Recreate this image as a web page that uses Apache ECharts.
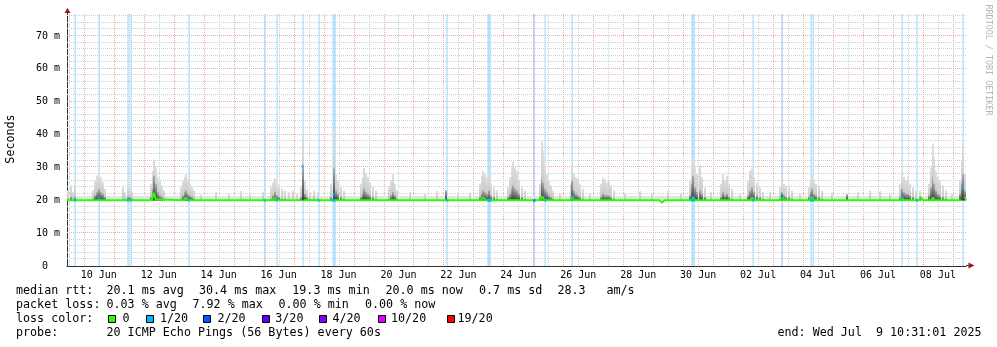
<!DOCTYPE html>
<html>
<head>
<meta charset="utf-8">
<script src="https://cdn.jsdelivr.net/npm/echarts@6.0.0/dist/echarts.min.js"></script>
<style>
html, body { margin: 0; padding: 0; background: #fff; }
#main { width: 997px; height: 347px; }
</style>
</head>
<body>
<div id="main"></div>
<script>
// time axis is in hours since 09 Jun 00:00, graph covers 09 Jun 10:31 -> 09 Jul 10:31
var startHour = 10.517;
var endHour = 730.517;
var yTop = 76.7;

var labelHours = [36, 84, 132, 180, 228, 276, 324, 372, 420, 468, 516, 564, 612, 660, 708];
var labelTexts = ['10 Jun', '12 Jun', '14 Jun', '16 Jun', '18 Jun', '20 Jun', '22 Jun', '24 Jun',
    '26 Jun', '28 Jun', '30 Jun', '02 Jul', '04 Jul', '06 Jul', '08 Jul'];
var yLabels = [0, 10, 20, 30, 40, 50, 60, 70];

// smoke columns: time, top of the light smoke, top of the dense core (ms)
var smokeTimes = [11.2, 13.6, 15.2, 16.8, 31.2, 32.8, 34.4, 36, 37.6, 39.2, 40.8, 55.2, 56.8, 59.2, 60.8, 62.4,
    77.6, 79.2, 80, 81.6, 83.2, 84.8, 86.4, 88, 101.6, 103.2, 104.8, 105.6, 107.2, 108.8, 110.4, 112,
    117.6, 129.6, 140, 149.6, 156.8, 167.2,
    173.6, 175.2, 176.8, 178.4, 180, 182.4, 184.8, 188, 191.2, 194.4,
    197.6, 199.2, 200.8, 202.4, 204.8, 208, 211.2, 221.6, 224, 225.6, 227.2, 229.6, 232,
    245.6, 247.2, 248, 249.6, 251.2, 252.8, 255.2, 257.6, 268.8, 270.4, 272, 273.6, 275.2,
    285.6, 297.6, 307.2, 314.4, 324, 333.6,
    341.6, 343.2, 344, 345.6, 347.2, 348.8, 350.4, 352.8, 355.2,
    364, 365.6, 367.2, 368, 369.6, 371.2, 372.8, 375.2, 377.6,
    389.6, 391.2, 392, 393.6, 395.2, 396.8, 398.4, 400, 405.6,
    414.4, 415.2, 416.8, 418.4, 420, 421.6, 424, 429.6,
    438.4, 440, 441.6, 443.2, 444.8, 446.4, 448.8, 457.6, 469.6, 479.2, 492, 502.4,
    509.6, 511.2, 512, 513.6, 515.2, 517.6, 519.2, 521.6, 526.4,
    534.4, 536, 537.6, 539.2, 540.8, 543.2, 549.6,
    556, 557.6, 559.2, 560.8, 563.2, 565.6, 568, 573.6,
    581.6, 583.2, 584.8, 586.4, 588.8, 591.2, 597.6,
    604.8, 606.4, 607.2, 608.8, 610.4, 612.8, 615.2, 623.2, 635.2, 644, 653.6, 661.6, 669.6,
    677.6, 679.2, 680.8, 682.4, 684, 685.6, 688, 690.4, 693.6,
    700.8, 702.4, 704, 704.8, 706.4, 708, 709.6, 712, 714.4, 719.2,
    725.6, 727.2, 728, 729.6];
var smokeTops = [23, 24.5, 22.5, 24.6, 23, 26, 27.5, 28.7, 27, 25.5, 23.5, 24, 22.5, 25, 24, 22.5,
    25, 29, 32.4, 30, 27, 26, 24.5, 23, 24, 26, 27, 28, 26.5, 25, 24, 23,
    21.8, 22.5, 22, 22.8, 22, 22.5,
    24, 25.5, 26.7, 25, 24.5, 23.5, 23, 22.5, 23, 22,
    24, 40, 26, 23.5, 22.5, 23, 22.5, 25, 42, 28, 26, 24, 23,
    25, 27, 29.8, 28, 27, 25.5, 24, 23, 24, 26, 28, 25, 23,
    22.5, 22, 22.8, 23, 22, 22.3,
    25, 27.5, 29, 28, 27, 28.5, 25, 24, 23,
    24, 27, 30, 31.7, 30, 29, 26, 24, 23,
    25, 37.8, 35, 31, 28, 26, 24.5, 23, 22,
    25, 31, 28, 27, 26.5, 25, 23.5, 22,
    25, 27, 26.5, 25.5, 26, 24.5, 23, 22.3, 22.8, 22, 23, 22.3,
    26, 30, 33, 30, 28, 30.7, 27, 24, 22.5,
    25, 28, 26, 27.5, 25, 23.5, 22,
    26, 29, 29.7, 27, 25.5, 24, 22.5, 22.5,
    24, 26, 25, 24.5, 24, 23, 22,
    24, 26, 27.6, 26, 25, 24, 23, 22.3, 22, 22.5, 23, 22.8, 22,
    25, 28.7, 27, 26, 27, 25, 24, 23, 23,
    25, 30, 37.3, 33, 29, 27, 26, 24.5, 23, 22,
    26, 32, 38, 28];
var smokeCores = [20.5, 21, 20, 21, 20.5, 21.5, 22.5, 23.5, 22.5, 22, 21, 20.5, 20, 21, 21, 20.5,
    21, 23.5, 27.5, 25, 22.5, 21.5, 21, 20.5, 20.5, 21.5, 22.5, 23, 22, 21.5, 21, 20.5,
    20, 20, 20, 20, 20, 20,
    20.5, 21.5, 22.5, 21.5, 21, 20.5, 20.5, 20, 20, 20,
    21, 30.4, 22, 21, 20.5, 20.5, 20, 21, 30, 23, 22, 21, 20.5,
    21, 22, 23.5, 22.5, 22, 21.5, 21, 20.5, 20.5, 21.5, 22.5, 21.5, 20.5,
    20, 20, 20, 23, 20, 20,
    21, 22, 23, 22.5, 22, 23, 21.5, 21, 20.5,
    21, 22, 23.5, 24.5, 23.5, 23, 22, 21, 20.5,
    21, 27, 25.5, 23.5, 22.5, 21.5, 21, 20.5, 20,
    21, 26, 23, 22, 21.5, 21, 20.5, 20,
    21, 22, 21.5, 21.5, 21.5, 21, 20.5, 20, 20, 20, 20, 20,
    21.5, 25, 27.5, 24, 22.5, 23, 22, 21, 20,
    21, 22.5, 21.5, 22, 21, 20.5, 20,
    21.5, 23, 24, 22.5, 21.5, 21, 20.5, 20,
    20.5, 22.5, 21.5, 21, 21, 20.5, 20,
    21, 22.5, 23.5, 22, 21.5, 21, 20.5, 20, 21.8, 20, 20, 20, 20,
    21, 23.5, 22.5, 22, 22, 21.5, 21, 20.5, 21,
    21.5, 24, 27, 25, 23, 22, 21.5, 21, 20.5, 20,
    22, 25, 28, 23];

// quiet smoke floor over the whole period
var floorLow = 19.9;
var floorTop = 21.3;

// median rtt without loss (null = step had loss, drawn in its loss colour)
var medianTimes = [10.517, 34.4, 36, 37.6, 78.4, 80, 81.6, 83.2, 104, 105.6, 107.2, 175.2, 176.8, 178.4,
    198.4, 199.2, 200, 223.2, 224, 224.8, 246.4, 248, 249.6, 342.4, 344, 345.6, 366.4, 368, 369.6,
    389.6, 391.2, 392.8, 413.6, 415.2, 416.8, 484.8, 486.4, 487.2, 488.8, 510.4, 512, 513.6,
    534.4, 536, 537.6, 557.6, 559.2, 560.8, 581.6, 583.2, 584.8, 605.6, 607.2, 608.8,
    677.6, 679.2, 680.8, 692.8, 694.4, 696, 702.4, 704, 705.6, 726.4, 728, 729.6, 730.517];
var medianValues = [20, 20, 20.6, 20, 20, 22.3, 20.3, 20, 20, 20.8, 20, 20, 20.8, 20,
    20, null, 20, 20, null, 20, 20, 20.5, 20, 20, 21, 20, 20, 20.5, 20,
    20, 21.2, 20, 20, 21, 20, 20, 19.4, 19.3, 20, 20, 20.8, 20,
    20, 20.5, 20, 20, 20.8, 20, 20, 21.3, 20, 20, 21, 20,
    20, 20.8, 20, 20, 21, 20, 20, 20.8, 20, 20, null, 21, 20];

// steps with packet loss (1 = 1/20, 2 = 2/20)
var lossTimes = [16.8, 36, 59.2, 61.6, 108, 168.8, 178.4, 199.2, 212, 223.2, 224, 224.8, 315.2,
    348, 348.8, 349.6, 384.8, 393.6, 415.2, 511.2, 512, 512.8, 560, 583.2, 606.4, 608, 679.2, 691.2, 728];
var lossLevels = [1, 1, 1, 1, 1, 1, 1, 1, 1, 1, 1, 1, 1, 1, 1, 1, 2, 1, 1, 1, 1, 1, 1, 2, 1, 1, 1, 1, 1];
var lossMedian = [20, 20.6, 20, 20, 20, 20, 20, 30.4, 20, 20, 21.8, 20, 20, 20, 20, 20, 20, 20, 21,
    20, 20.8, 20, 20, 21.3, 20, 20, 20.8, 20, 24];

var lossNames = ['0', '1/20', '2/20', '3/20', '4/20', '10/20', '19/20'];
var lossColors = ['#26ff00', '#00b8ff', '#0059ff', '#5e00ff', '#7e00ff', '#dd00ff', '#ff0000'];
var lossBgColors = ['#ffffff', '#a9ddfb', '#aabff3'];

// grid lines: [value, 0 = vertical / 1 = horizontal, 1 = major]
var gridData = [];
for (var h = 12; h <= 720; h += 12) gridData.push([h, 0, h % 24 === 0 ? 1 : 0]);
for (var v = 2; v < yTop; v += 2) gridData.push([v, 1, v % 10 === 0 ? 1 : 0]);

var smokeData = smokeTimes.map(function (t, i) {
    return [t, smokeTops[i], smokeCores[i]];
});
var medianData = medianTimes.map(function (t, i) {
    return [t, medianValues[i]];
});
var lossData = lossTimes.map(function (t, i) {
    return [t, lossMedian[i], lossLevels[i]];
});

var mono = '"DejaVu Sans Mono", monospace';

function gridItem(params, api) {
    var val = api.value(0), horiz = api.value(1), major = api.value(2);
    var color = major ? 'rgb(236,170,170)' : 'rgb(208,208,208)';
    var shape;
    if (horiz) {
        var a = api.coord([startHour, val]), b = api.coord([endHour, val]);
        var y = Math.round(a[1]) - 0.5;
        shape = {x1: a[0], y1: y, x2: b[0], y2: y};
    } else {
        var c = api.coord([val, yTop]), d = api.coord([val, 0]);
        var x = Math.round(c[0]) + 0.5;
        shape = {x1: x, y1: c[1], x2: x, y2: d[1]};
    }
    return {type: 'line', shape: shape, style: {stroke: color, lineWidth: 1, lineDash: [1, 1]}};
}

function smokeItem(params, api) {
    var t = api.value(0), top = api.value(1), core = api.value(2);
    var base = api.coord([t, floorLow]);
    var hi = api.coord([t, top]);
    var x = Math.round(hi[0]) - 1;
    var kids = [{
        type: 'rect',
        shape: {x: x, y: hi[1], width: 2, height: base[1] - hi[1]},
        style: {fill: {type: 'linear', x: 0, y: 0, x2: 0, y2: 1,
            colorStops: [{offset: 0, color: '#dedede'}, {offset: 1, color: '#c2c2c2'}]}}
    }];
    if (core > 20.05) {
        var c = api.coord([t, core]);
        kids.push({
            type: 'rect',
            shape: {x: x, y: c[1], width: 2, height: base[1] - c[1]},
            style: {fill: {type: 'linear', x: 0, y: 0, x2: 0, y2: 1,
                colorStops: [{offset: 0, color: '#b0b0b0'}, {offset: 1, color: '#3c3c3c'}]}}
        });
    }
    return {type: 'group', children: kids};
}

function floorItem(params, api) {
    var a = api.coord([startHour, floorTop]);
    var b = api.coord([endHour, floorLow]);
    return {type: 'rect', shape: {x: a[0], y: a[1], width: b[0] - a[0], height: b[1] - a[1]},
        style: {fill: '#e4e4e4'}};
}

function lossItem(params, api) {
    var t = api.value(0), lvl = api.value(2);
    var a = api.coord([t, yTop]);
    var b = api.coord([t, 0]);
    return {type: 'rect', shape: {x: Math.round(a[0]) - 0.5, y: a[1], width: 1.2, height: b[1] - a[1]},
        style: {fill: lossBgColors[lvl]}};
}

var graphics = [];
function txt(s, x, y) {
    graphics.push({type: 'text', silent: true,
        style: {text: s, x: x, y: y, font: '11.7px ' + mono, fill: '#000', verticalAlign: 'middle'}});
}

txt('median rtt:', 16, 291);
txt('20.1 ms avg', 106.5, 291);
txt('30.4 ms max', 199, 291);
txt('19.3 ms min', 292.3, 291);
txt('20.0 ms now', 385.5, 291);
txt('0.7 ms sd', 479, 291);
txt('28.3', 557.5, 291);
txt('am/s', 606.5, 291);
txt('packet loss:', 16, 305);
txt('0.03 % avg', 106.5, 305);
txt('7.92 % max', 192.5, 305);
txt('0.00 % min', 278.5, 305);
txt('0.00 % now', 365, 305);
txt('loss color:', 16, 319);
var boxX = [108, 146, 203, 262, 319, 378, 447];
var boxLabelX = [122.5, 160, 217.5, 275.3, 332.5, 391, 457.5];
for (var i = 0; i < lossNames.length; i++) {
    graphics.push({type: 'rect', silent: true,
        shape: {x: boxX[i] + 0.5, y: 315.5, width: 7, height: 7},
        style: {fill: lossColors[i], stroke: '#000', lineWidth: 1}});
    txt(lossNames[i], boxLabelX[i], 319);
}
txt('probe:', 16, 333);
txt('20 ICMP Echo Pings (56 Bytes) every 60s', 106.5, 333);
txt('end: Wed Jul  9 10:31:01 2025', 777.5, 333);

graphics.push({type: 'text', silent: true, x: 11, y: 139, rotation: Math.PI / 2,
    style: {text: 'Seconds', font: '11.7px ' + mono, fill: '#000', align: 'center', verticalAlign: 'middle'}});
graphics.push({type: 'text', silent: true, x: 988, y: 60, rotation: -Math.PI / 2,
    style: {text: 'RRDTOOL / TOBI OETIKER', font: '8.4px ' + mono, fill: '#b4b4b4', align: 'center', verticalAlign: 'middle'}});

// axis arrows
graphics.push({type: 'line', silent: true, shape: {x1: 67.5, y1: 14, x2: 67.5, y2: 11}, style: {stroke: '#3a3a3a', lineWidth: 1}});
graphics.push({type: 'polygon', silent: true, shape: {points: [[67.5, 8], [64.5, 13], [70.5, 13]]}, style: {fill: '#a01818'}});
graphics.push({type: 'line', silent: true, shape: {x1: 966, y1: 265.5, x2: 969, y2: 265.5}, style: {stroke: '#3a3a3a', lineWidth: 1}});
graphics.push({type: 'polygon', silent: true, shape: {points: [[974.5, 265.5], [968.5, 262.5], [968.5, 268.5]]}, style: {fill: '#a01818'}});

var chart = echarts.init(document.getElementById('main'), null, {renderer: 'canvas'});
chart.setOption({
    animation: false,
    backgroundColor: '#ffffff',
    grid: {left: 67, right: 31, top: 14, bottom: 81, containLabel: false},
    xAxis: {
        type: 'value', min: startHour, max: endHour,
        axisLine: {show: true, lineStyle: {color: '#303030', width: 1}},
        axisTick: {show: false},
        splitLine: {show: false},
        axisLabel: {
            customValues: labelHours, margin: 4,
            fontFamily: mono, fontSize: 10, color: '#000',
            formatter: function (val) {
                var i = labelHours.indexOf(val);
                return i >= 0 ? labelTexts[i] : '';
            }
        }
    },
    yAxis: {
        type: 'value', min: 0, max: yTop,
        axisLine: {show: true, lineStyle: {color: '#303030', width: 1}},
        axisTick: {show: false},
        splitLine: {show: false},
        axisLabel: {
            customValues: yLabels, margin: 7,
            fontFamily: mono, fontSize: 10, color: '#000',
            formatter: function (val) {
                if (val % 10 !== 0) return '';
                return val === 0 ? '0  ' : val + ' m';
            }
        }
    },
    graphic: graphics,
    series: [
        {
            name: 'grid', type: 'custom', data: gridData, z: 1, silent: true,
            renderItem: gridItem, encode: {x: 0}
        },
        {
            name: 'loss', type: 'custom', data: lossData, z: 2, silent: true,
            renderItem: lossItem, encode: {x: 0, y: 1}
        },
        {
            name: 'floor', type: 'custom', data: [[startHour, floorTop]], z: 3, silent: true,
            renderItem: floorItem, encode: {x: 0, y: 1}
        },
        {
            name: 'smoke', type: 'custom', data: smokeData, z: 4, silent: true,
            renderItem: smokeItem, encode: {x: 0, y: 1}, clip: true
        },
        {
            name: 'median', type: 'line', data: medianData, z: 5, silent: true,
            symbol: 'none', connectNulls: false, lineStyle: {color: '#26ff00', width: 2}
        },
        {
            name: 'loss median', type: 'scatter', data: lossData, z: 6, silent: true,
            symbol: 'rect', symbolSize: [2, 3],
            itemStyle: {color: function (p) { return lossColors[p.data[2]]; }}
        }
    ]
});
</script>
</body>
</html>
